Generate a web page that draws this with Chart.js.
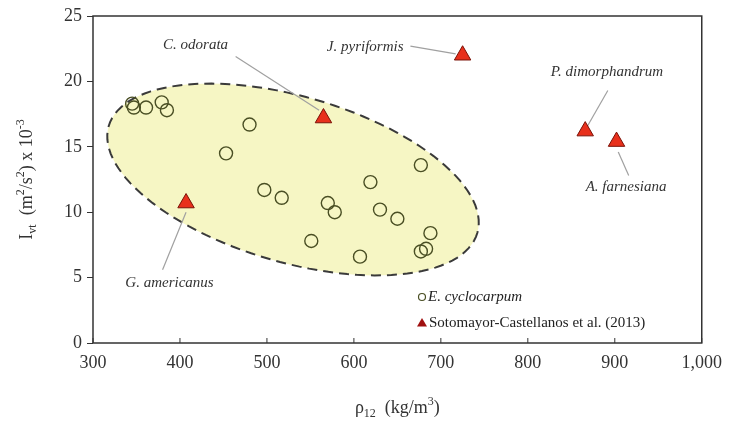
<!DOCTYPE html>
<html>
<head>
<meta charset="utf-8">
<script src="https://cdn.jsdelivr.net/npm/chart.js@4.4.1/dist/chart.umd.min.js"></script>
<style>
  html, body { margin: 0; padding: 0; background: #fff; }
  #wrap { width: 731px; height: 436px; }
</style>
</head>
<body>
<div id="wrap"><canvas id="chart" width="731" height="436"></canvas></div>
<script>
// E. cyclocarpum (this study)
const cycloX = [345, 347, 361, 379, 385, 480, 453, 497, 517, 570, 578, 551, 619, 630, 650, 677, 688, 677, 683, 607];
const cycloY = [18.3, 18.0, 18.0, 18.4, 17.8, 16.7, 14.5, 11.7, 11.1, 10.7, 10.0, 7.8, 12.3, 10.2, 9.5, 13.6, 8.4, 7.0, 7.2, 6.6];

// Sotomayor-Castellanos et al. (2013)
const sotoNames = ['G. americanus', 'C. odorata', 'J. pyriformis', 'P. dimorphandrum', 'A. farnesiana'];
const sotoX = [407, 565, 725, 866, 902];
const sotoY = [10.7, 17.2, 22.0, 16.2, 15.4];

// label text centres and leader lines, in data units
const labelX = [388, 418, 613, 891, 913];
const labelY = [4.6, 22.8, 22.6, 20.7, 11.9];
const leaderFrom = [[380, 5.6], [464, 21.9], [665, 22.7], [892, 19.3], [904, 14.6]];
const leaderTo = [[407, 10.0], [560, 17.8], [717, 22.1], [867, 16.4], [916, 12.8]];

// grouping ellipse: centre and two conjugate half-axes, data units
const ellipseCentre = [530, 12.5];
const ellipseU = [212, -4.07];
const ellipseV = [-26.1, -6.1];

const SERIF = '"Liberation Serif", "DejaVu Serif", serif';

const toPoints = (xs, ys) => xs.map((x, i) => ({ x: x, y: ys[i] }));

// draws runs of text with sub/superscripts, centred on (0,0)
function drawRuns(ctx, runs, size) {
    const fontFor = (r) => (r.italic ? 'italic ' : '') + Math.round(r.shift ? size * 0.65 : size) + 'px ' + SERIF;
    let total = 0;
    runs.forEach(r => { ctx.font = fontFor(r); total += ctx.measureText(r.t).width; });
    let x = -total / 2;
    ctx.textBaseline = 'middle';
    ctx.textAlign = 'left';
    runs.forEach(r => {
        ctx.font = fontFor(r);
        ctx.fillText(r.t, x, (r.shift || 0) * size);
        x += ctx.measureText(r.t).width;
    });
}

const decorPlugin = {
    id: 'decor',
    beforeDatasetsDraw(chart) {
        const { ctx, scales: { x, y } } = chart;
        const cx = x.getPixelForValue(ellipseCentre[0]);
        const cy = y.getPixelForValue(ellipseCentre[1]);
        const ux = x.getPixelForValue(ellipseCentre[0] + ellipseU[0]) - cx;
        const uy = y.getPixelForValue(ellipseCentre[1] + ellipseU[1]) - cy;
        const vx = x.getPixelForValue(ellipseCentre[0] + ellipseV[0]) - cx;
        const vy = y.getPixelForValue(ellipseCentre[1] + ellipseV[1]) - cy;
        ctx.save();
        ctx.beginPath();
        for (let i = 0; i <= 120; i++) {
            const t = i / 120 * Math.PI * 2;
            const px = cx + ux * Math.cos(t) + vx * Math.sin(t);
            const py = cy + uy * Math.cos(t) + vy * Math.sin(t);
            if (i === 0) ctx.moveTo(px, py); else ctx.lineTo(px, py);
        }
        ctx.closePath();
        ctx.fillStyle = '#f6f6c4';
        ctx.fill();
        ctx.setLineDash([10, 6]);
        ctx.lineWidth = 2;
        ctx.strokeStyle = '#3a3a3a';
        ctx.stroke();
        ctx.restore();

        // leader lines
        ctx.save();
        ctx.strokeStyle = '#a0a0a0';
        ctx.lineWidth = 1.2;
        leaderFrom.forEach((p, i) => {
            ctx.beginPath();
            ctx.moveTo(x.getPixelForValue(p[0]), y.getPixelForValue(p[1]));
            ctx.lineTo(x.getPixelForValue(leaderTo[i][0]), y.getPixelForValue(leaderTo[i][1]));
            ctx.stroke();
        });
        ctx.restore();
    },
    afterDatasetsDraw(chart) {
        const { ctx, chartArea: a, scales: { x, y } } = chart;
        ctx.save();
        // species labels
        ctx.fillStyle = '#333';
        ctx.font = 'italic 15px ' + SERIF;
        ctx.textAlign = 'center';
        ctx.textBaseline = 'middle';
        sotoNames.forEach((n, i) => {
            ctx.fillText(n, x.getPixelForValue(labelX[i]), y.getPixelForValue(labelY[i]));
        });

        // frame
        ctx.strokeStyle = '#333';
        ctx.lineWidth = 1.5;
        ctx.strokeRect(a.left, a.top, a.right - a.left, a.bottom - a.top);

        // x ticks pointing inward
        ctx.lineWidth = 1;
        x.ticks.forEach((t, i) => {
            const px = x.getPixelForTick(i);
            ctx.beginPath();
            ctx.moveTo(px, a.bottom);
            ctx.lineTo(px, a.bottom - 5);
            ctx.stroke();
        });

        // legend
        const ds = chart.data.datasets;
        const lx = 422, ly1 = 297, ly2 = 323;
        ctx.strokeStyle = '#4a4f24';
        ctx.lineWidth = 1.2;
        ctx.beginPath();
        ctx.arc(lx, ly1, 3.5, 0, Math.PI * 2);
        ctx.stroke();
        ctx.fillStyle = '#a01010';
        ctx.beginPath();
        ctx.moveTo(lx, ly2 - 5);
        ctx.lineTo(lx + 5, ly2 + 3.5);
        ctx.lineTo(lx - 5, ly2 + 3.5);
        ctx.closePath();
        ctx.fill();
        ctx.fillStyle = '#222';
        ctx.textAlign = 'left';
        ctx.font = 'italic 15px ' + SERIF;
        ctx.fillText(ds[0].label, lx + 6, ly1);
        ctx.font = '15px ' + SERIF;
        ctx.fillText(ds[1].label, lx + 7, ly2);

        // axis titles
        ctx.fillStyle = '#333';
        ctx.save();
        ctx.translate(27, (a.top + a.bottom) / 2);
        ctx.rotate(-Math.PI / 2);
        drawRuns(ctx, [
            { t: 'I' }, { t: 'vt', shift: 0.3 }, { t: '  (m' }, { t: '2', shift: -0.35 },
            { t: '/s' }, { t: '2', shift: -0.35 }, { t: ') x 10' }, { t: '-3', shift: -0.35 }
        ], 18);
        ctx.restore();
        ctx.save();
        ctx.translate((a.left + a.right) / 2, 408);
        drawRuns(ctx, [
            { t: 'ρ' }, { t: '12', shift: 0.3 }, { t: '  (kg/m' }, { t: '3', shift: -0.35 }, { t: ')' }
        ], 18);
        ctx.restore();
        ctx.restore();
    }
};

new Chart(document.getElementById('chart'), {
    type: 'scatter',
    data: {
        datasets: [{
            label: 'E. cyclocarpum',
            data: toPoints(cycloX, cycloY),
            pointStyle: 'circle',
            pointRadius: 6.5,
            pointBackgroundColor: 'rgba(0,0,0,0)',
            pointBorderColor: '#4a4f24',
            pointBorderWidth: 1.4
        }, {
            label: 'Sotomayor-Castellanos et al. (2013)',
            data: toPoints(sotoX, sotoY),
            pointStyle: 'triangle',
            pointRadius: 9.5,
            pointBackgroundColor: '#e8301c',
            pointBorderColor: '#7a1208',
            pointBorderWidth: 1
        }]
    },
    options: {
        responsive: false,
        animation: false,
        layout: { padding: { left: 0, right: 25, top: 16, bottom: 0 } },
        plugins: {
            legend: { display: false },
            tooltip: { enabled: false }
        },
        scales: {
            x: {
                type: 'linear',
                min: 300,
                max: 1000,
                ticks: { stepSize: 100, padding: 9, color: '#333', font: { family: SERIF, size: 18 } },
                grid: { display: false, drawTicks: false },
                border: { display: false },
                afterFit: (s) => { s.height = 93; }
            },
            y: {
                min: 0,
                max: 25,
                ticks: { stepSize: 5, padding: 5, color: '#333', font: { family: SERIF, size: 18 } },
                grid: { drawOnChartArea: false, tickLength: 6, color: '#333' },
                border: { display: false },
                afterFit: (s) => { s.width = 93; }
            }
        }
    },
    plugins: [decorPlugin]
});
</script>
</body>
</html>
